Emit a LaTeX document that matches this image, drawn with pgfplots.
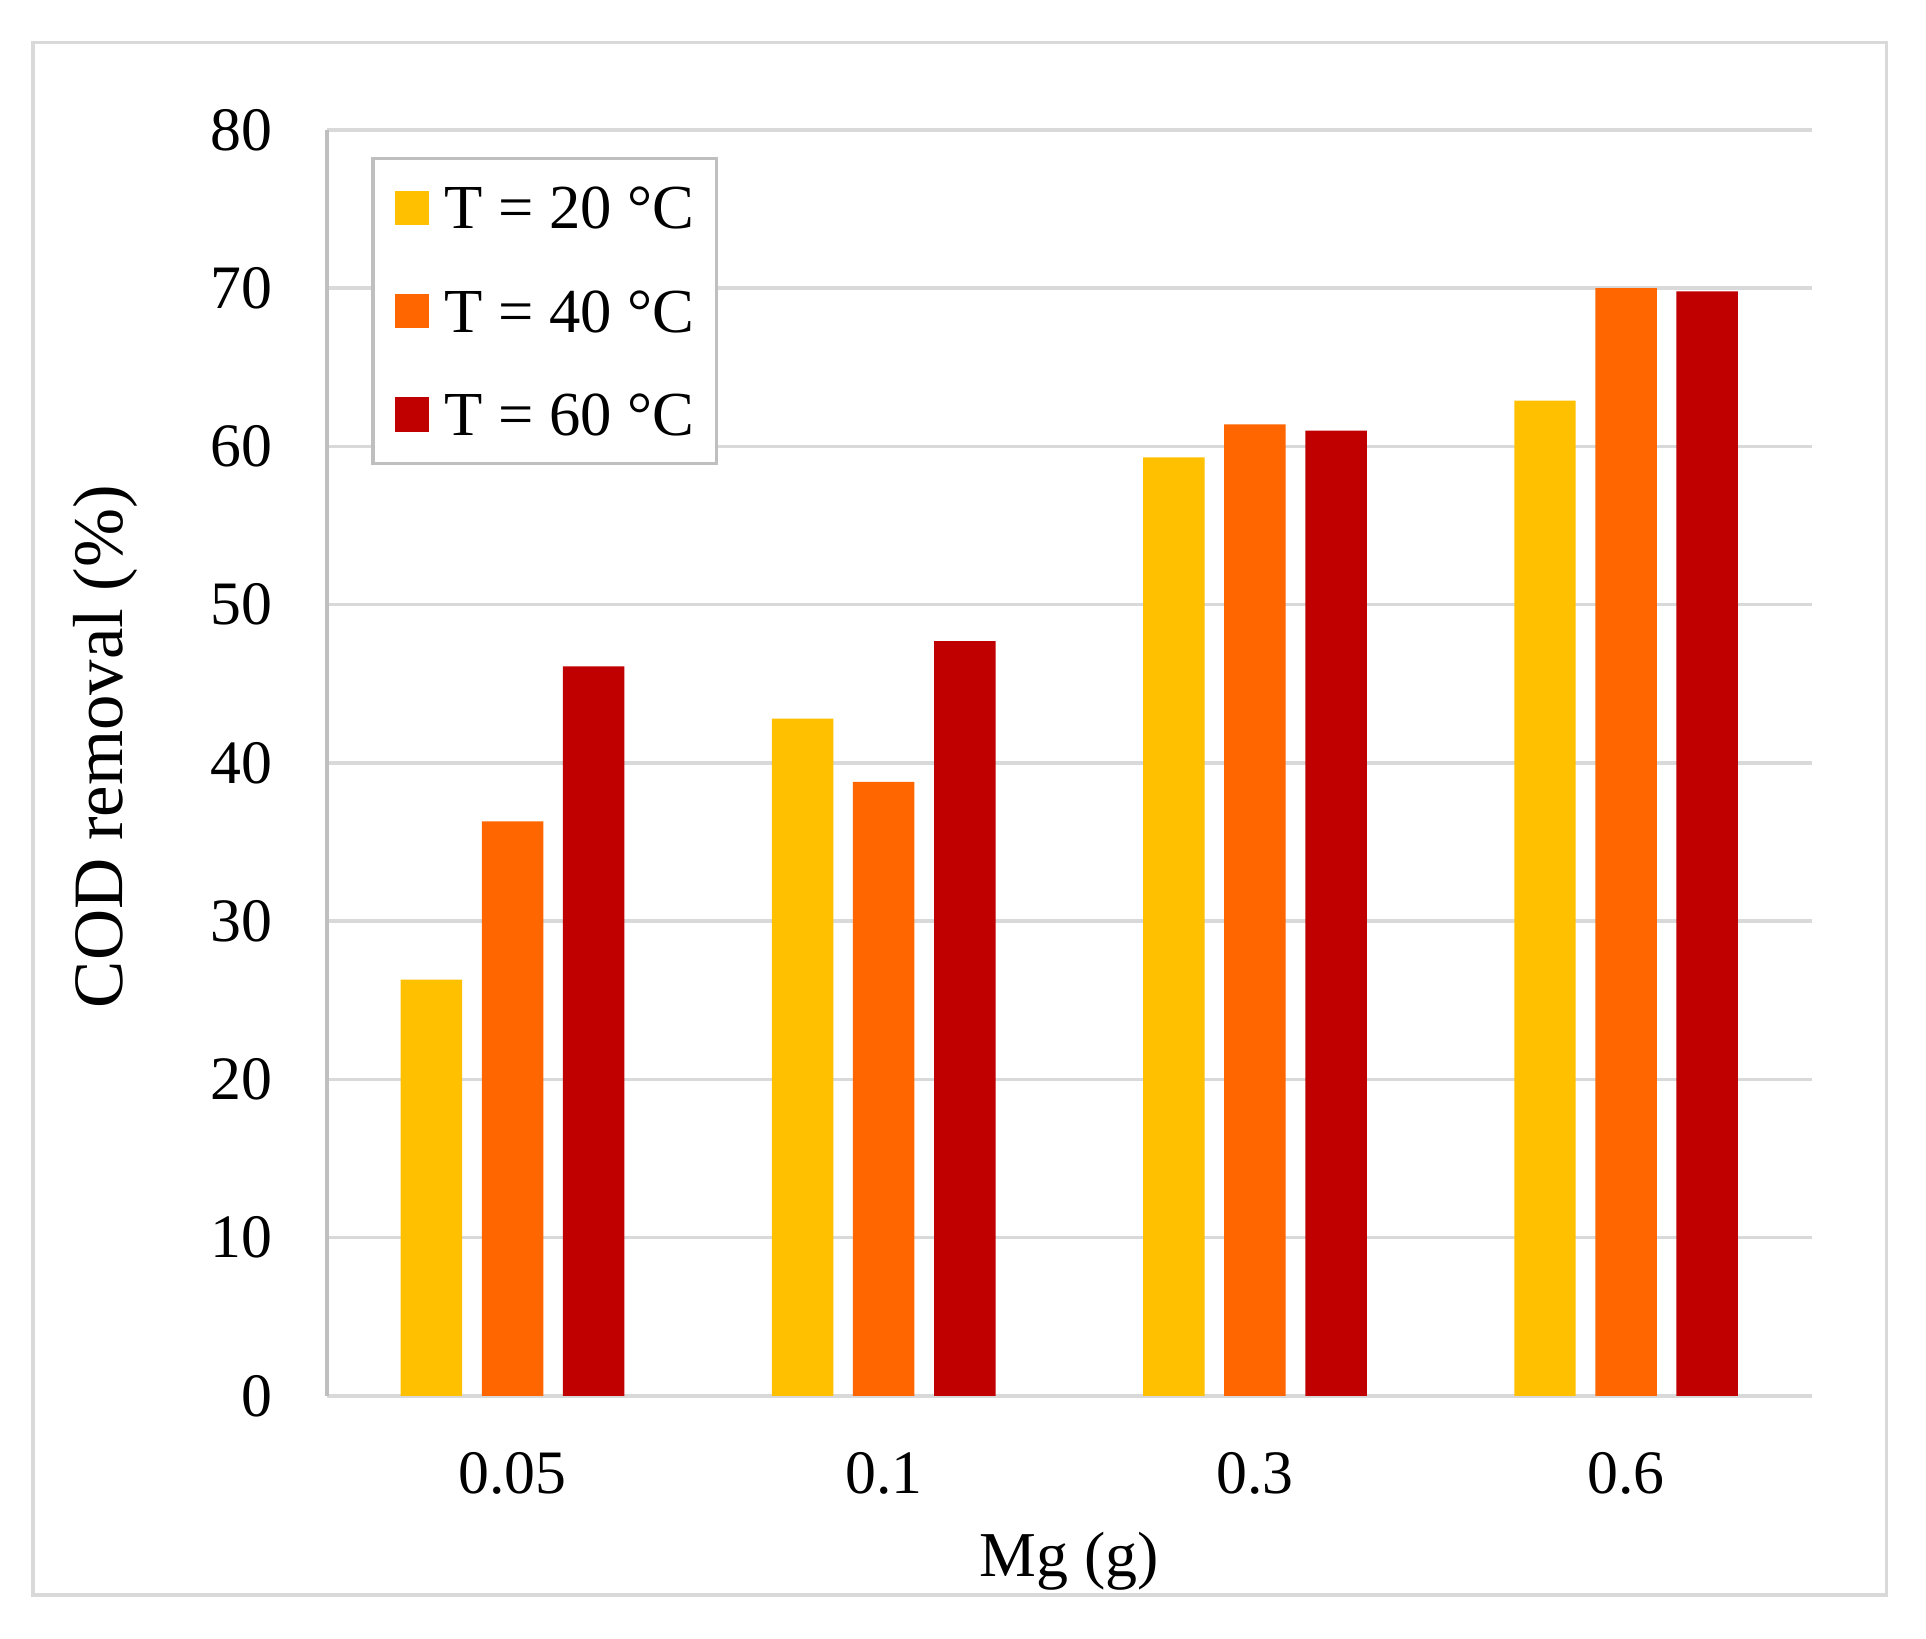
\documentclass[border=0pt]{standalone}
\usepackage{fontspec}
\setmainfont{Liberation Serif}
\usepackage{pgfplots}
\pgfplotsset{compat=1.18}
\definecolor{c20}{HTML}{FFC000}
\definecolor{c40}{HTML}{FF6600}
\definecolor{c60}{HTML}{C00000}
\definecolor{gridgray}{HTML}{D9D9D9}
\definecolor{axisgray}{HTML}{BFBFBF}
\begin{document}
\begin{tikzpicture}
\path (0,0) rectangle (15.67,13.327);
\draw[gridgray, line width=0.8pt] (0.27,0.35) rectangle (15.35,12.98);
\begin{axis}[
  at={(2.66cm,1.97cm)}, anchor=south west,
  scale only axis, width=12.08cm, height=10.30cm,
  ybar, bar width=0.1656,
  xmin=-0.5, xmax=3.5, ymin=0, ymax=80, ytick distance=10,
  xtick=data, xticklabels={0.05,0.1,0.3,0.6},
  major tick length=0pt,
  axis x line*=bottom, axis y line*=left,
  x axis line style={draw=gridgray, line width=0.8pt, -},
  y axis line style={draw=axisgray, line width=0.8pt, -},
  ymajorgrids, grid style={gridgray, line width=0.8pt},
  /pgf/number format/assume math mode=true,
  tick label style={font=\fontsize{14.3}{17}\selectfont},
  xticklabel style={anchor=north, inner sep=0pt, yshift=-0.45cm},
  yticklabel style={anchor=east, inner sep=0pt, xshift=-0.44cm},
  xlabel={Mg (g)}, ylabel={COD removal (\%)},
  xlabel style={font=\fontsize{14.8}{17}\selectfont, anchor=base,
    at={(axis description cs:0.5,-0.1427)}},
  ylabel style={font=\fontsize{16.4}{19}\selectfont, anchor=base,
    at={(axis description cs:-0.1374,0.513)}},
  legend style={at={(axis description cs:0.0298,0.9786)}, anchor=north west,
    draw=axisgray, line width=0.8pt,
    font=\fontsize{14.5}{17}\selectfont,
    inner xsep=0.18cm, inner ysep=0.23cm,
    nodes={inner sep=0pt, text height=0.34cm, text depth=0pt},
    row sep=0.5cm,
    /tikz/every odd column/.append style={column sep=0.12cm}},
  legend cell align=left,
  legend image code/.code={\fill[#1] (0cm,-0.14cm) rectangle (0.28cm,0.14cm);},
]
\addplot[fill=c20, draw=none, bar shift=-0.2185] coordinates {(0,26.3) (1,42.8) (2,59.3) (3,62.9)};
\addlegendentry{T = 20 °C}
\addplot[fill=c40, draw=none, bar shift=0] coordinates {(0,36.3) (1,38.8) (2,61.4) (3,70.0)};
\addlegendentry{T = 40 °C}
\addplot[fill=c60, draw=none, bar shift=0.2185] coordinates {(0,46.1) (1,47.7) (2,61.0) (3,69.8)};
\addlegendentry{T = 60 °C}
\end{axis}
\end{tikzpicture}
\end{document}
